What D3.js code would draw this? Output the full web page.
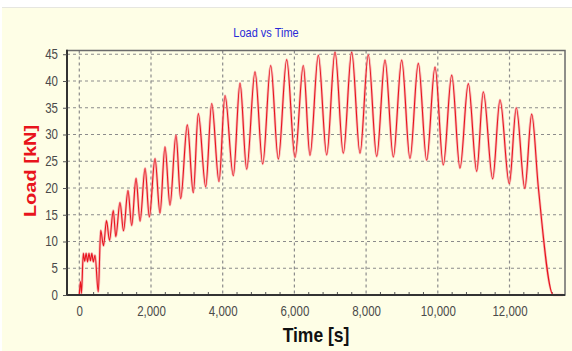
<!DOCTYPE html>
<html>
<head>
<meta charset="utf-8">
<script src="https://cdn.jsdelivr.net/npm/d3@7"></script>
<style>
  html, body { margin: 0; padding: 0; background: #ffffff; }
  svg { display: block; }
</style>
</head>
<body>
<svg id="chart" width="572" height="351"></svg>
<script>
// ---- data ----
const timeS = [0, 33, 60, 112, 150, 190, 230, 270, 310, 350, 390, 438, 530,
  597, 675, 759, 842, 948, 1018, 1135, 1233, 1358, 1462, 1582, 1695, 1835, 1953,
  2112, 2251, 2390, 2530, 2697, 2828, 3013, 3180, 3319, 3526, 3693, 3897, 4064,
  4296, 4483, 4669, 4901, 5116, 5339, 5551, 5785, 6017, 6248, 6435, 6667, 6901,
  7133, 7364, 7598, 7830, 8061, 8296, 8527, 8759, 8993, 9224, 9456, 9690, 9922,
  10153, 10388, 10619, 10851, 11085, 11269, 11531, 11735, 11994, 12190, 12427,
  12619, 12803, 13222, 13492];
const loadKN = [0, 2.5, 0.3, 7.8, 6.3, 7.8, 6.2, 7.8, 6.4, 7.8, 6.2, 7.4, 0.6,
  12.1, 9.2, 13.9, 10.2, 15.8, 10.9, 17.3, 12.0, 19.5, 13.0, 21.8, 13.8, 23.7, 14.6,
  25.5, 15.3, 27.7, 16.8, 29.9, 18.0, 31.8, 19.1, 33.9, 20.2, 35.8, 21.2, 37.3,
  22.3, 39.6, 23.5, 41.7, 24.5, 42.9, 25.4, 44.0, 25.7, 42.9, 26.1, 44.8, 26.2,
  45.4, 26.5, 45.4, 26.5, 44.9, 25.9, 43.9, 25.8, 43.9, 25.5, 43.3, 25.2, 42.6,
  24.3, 41.1, 23.7, 39.5, 23.1, 38.0, 21.7, 36.5, 20.8, 35.0, 19.9,
  33.8, 20.2, 0, 0];
const xTicks = [0, 2000, 4000, 6000, 8000, 10000, 12000];
const yTicks = [0, 5, 10, 15, 20, 25, 30, 35, 40, 45];
const xDomain = [-343, 13548];
const yDomain = [0, 45.7];
const titleText = "Load vs Time";
const xLabelText = "Time [s]";
const yLabelText = "Load [kN]";

// ---- layout ----
const W = 572, H = 351;
const plot = { left: 67, right: 565, top: 50.5, bottom: 295 };
const stretch = 1.2; // vertical stretch of the original raster text

const svg = d3.select("#chart");
svg.append("rect").attr("x", 0).attr("y", 0).attr("width", W).attr("height", H).attr("fill", "#ffffff");
svg.append("rect").attr("x", 2).attr("y", 8).attr("width", W - 2).attr("height", H - 8)
   .attr("fill", "#fefee6");
svg.append("line").attr("x1", 2).attr("x2", W).attr("y1", 7.5).attr("y2", 7.5)
   .attr("stroke", "#e6e6e0").attr("stroke-width", 1);

const x = d3.scaleLinear().domain(xDomain).range([plot.left, plot.right]);
const y = d3.scaleLinear().domain(yDomain).range([plot.bottom, plot.top]);

// plot background
svg.append("rect").attr("x", plot.left).attr("y", plot.top)
   .attr("width", plot.right - plot.left).attr("height", plot.bottom - plot.top)
   .attr("fill", "#fefee6");

// grid
const grid = svg.append("g").attr("stroke", "#8c8c8c").attr("stroke-width", 1.2)
   .attr("stroke-dasharray", "3,3");
grid.selectAll("line.h").data(yTicks.filter(d => d > 0)).enter().append("line")
   .attr("x1", plot.left).attr("x2", plot.right)
   .attr("y1", d => y(d)).attr("y2", d => y(d));
grid.selectAll("line.v").data(xTicks).enter().append("line")
   .attr("y1", plot.top).attr("y2", plot.bottom)
   .attr("x1", d => x(d)).attr("x2", d => x(d));

// minor ticks along bottom
const minor = d3.range(-0, 13500, 400).filter(d => d % 2000 !== 0);
svg.append("g").selectAll("line").data(minor).enter().append("line")
   .attr("x1", d => x(d)).attr("x2", d => x(d))
   .attr("y1", plot.bottom - 3).attr("y2", plot.bottom)
   .attr("stroke", "#555").attr("stroke-width", 1);

// data line
const line = d3.line().x((d, i) => x(timeS[i])).y(d => y(d)).curve(d3.curveMonotoneX);
svg.append("path").datum(loadKN).attr("d", line)
   .attr("fill", "none").attr("stroke", "#f4a0a4").attr("stroke-width", 2.6)
   .attr("stroke-linejoin", "round").attr("stroke-opacity", 0.7);
svg.append("path").datum(loadKN).attr("d", line)
   .attr("fill", "none").attr("stroke", "#e8141c").attr("stroke-width", 1.1)
   .attr("stroke-linejoin", "round");

// frame
svg.append("rect").attr("x", plot.left).attr("y", plot.top)
   .attr("width", plot.right - plot.left).attr("height", plot.bottom - plot.top)
   .attr("fill", "none").attr("stroke", "#6a6a6a").attr("stroke-width", 1.5);
svg.append("line").attr("x1", plot.left).attr("x2", plot.left)
   .attr("y1", plot.top - 0.75).attr("y2", plot.bottom + 1)
   .attr("stroke", "#333").attr("stroke-width", 2);
svg.append("line").attr("x1", plot.left).attr("x2", plot.right)
   .attr("y1", plot.bottom).attr("y2", plot.bottom)
   .attr("stroke", "#333").attr("stroke-width", 2);

// y axis
const yAxis = d3.axisLeft(y).tickValues(yTicks).tickSize(4).tickPadding(5)
   .tickFormat(d3.format("d"));
const gy = svg.append("g").attr("transform", `translate(${plot.left},0)`).call(yAxis);
gy.select(".domain").remove();
gy.selectAll(".tick line").attr("stroke", "#555");
gy.selectAll(".tick text").attr("fill", "#4a4a4a")
   .style("font-family", "Arial, 'Liberation Sans', sans-serif").style("font-size", "11.5px")
   .attr("dy", null).attr("dominant-baseline", "central")
   .attr("transform", function () { const xx = +d3.select(this).attr("x"); return `translate(${xx},0) scale(1,${stretch}) translate(${-xx},0)`; });

// x axis
const xAxis = d3.axisBottom(x).tickValues(xTicks).tickSize(0).tickPadding(11)
   .tickFormat(d3.format(","));
const gx = svg.append("g").attr("transform", `translate(0,${plot.bottom})`).call(xAxis);
gx.select(".domain").remove();
gx.selectAll(".tick text").attr("fill", "#4a4a4a")
   .style("font-family", "Arial, 'Liberation Sans', sans-serif").style("font-size", "11.5px")
   .attr("transform", `scale(1,${stretch})`).attr("y", 9);

// title
svg.append("text").attr("text-anchor", "middle")
   .attr("transform", `translate(266,37) scale(1,${stretch})`)
   .attr("fill", "#2a2ad8")
   .style("font-family", "Arial, 'Liberation Sans', sans-serif").style("font-size", "11px")
   .text(titleText);

// x label
svg.append("text").attr("text-anchor", "middle")
   .attr("transform", `translate(316,342) scale(1,1.16)`)
   .attr("fill", "#111")
   .style("font-family", "Arial, 'Liberation Sans', sans-serif").style("font-size", "17.5px")
   .style("font-weight", "bold")
   .text(xLabelText);

// y label
svg.append("text").attr("text-anchor", "middle")
   .attr("transform", `translate(35.5,171) scale(1,1.25) rotate(-90)`)
   .attr("fill", "#e8141c")
   .style("font-family", "Arial, 'Liberation Sans', sans-serif").style("font-size", "16px")
   .style("font-weight", "bold")
   .text(yLabelText);
</script>
</body>
</html>
